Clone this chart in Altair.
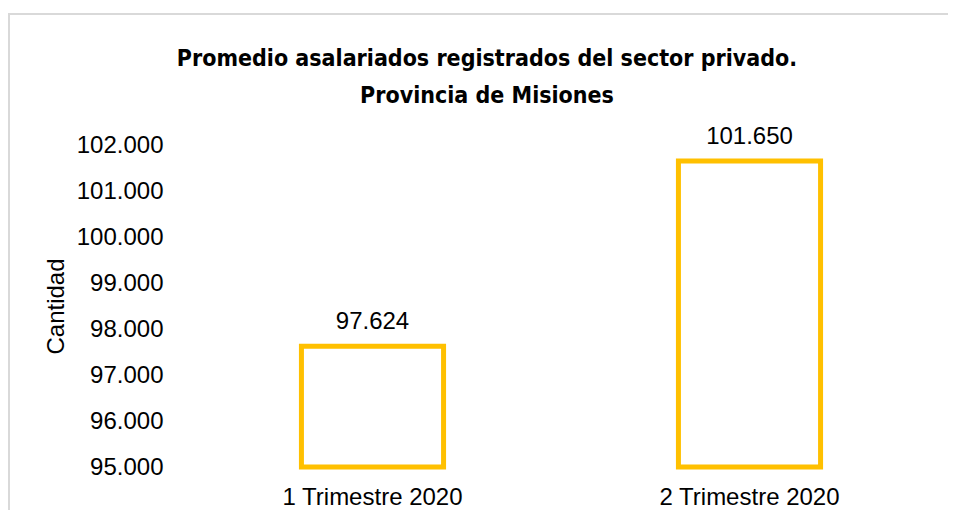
import altair as alt
import pandas as pd

categories = ["1 Trimestre 2020", "2 Trimestre 2020"]
values = [97624, 101650]
y_ticks = [95000, 96000, 97000, 98000, 99000, 100000, 101000, 102000]

df = pd.DataFrame({
    "periodo": categories,
    "valor": values,
    "etiqueta": [f"{v:,}".replace(",", ".") for v in values],
})

FONT = "Liberation Sans, Arial, sans-serif"
TITLE_FONT = "'Liberation Sans Narrow', 'DejaVu Sans Condensed', sans-serif"

x_enc = alt.X(
    "periodo:N",
    sort=categories,
    scale=alt.Scale(paddingInner=0.623, paddingOuter=0.3115),
    axis=alt.Axis(
        title=None, labelAngle=0, domain=False, ticks=False, labelPadding=18,
        labelFontSize=24, labelFont=FONT, labelColor="#000000", labelLimit=0,
    ),
)
y_enc = alt.Y(
    "valor:Q",
    scale=alt.Scale(domain=[95000, 102000], zero=False, nice=False),
    axis=alt.Axis(
        title="Cantidad", values=y_ticks, grid=False, domain=False, ticks=False,
        labelPadding=21, labelFontSize=24, labelFont=FONT, labelColor="#000000",
        labelExpr="replace(format(datum.value, ',.0f'), ',', '.')",
        titleFont=FONT, titleFontSize=24, titleFontWeight="normal",
        titleColor="#000000", titlePadding=8,
    ),
)

frame = alt.Chart(alt.Data(values=[{"k": 1}])).mark_rect(
    filled=False, stroke="#d9d9d9", strokeWidth=2
).encode(
    x=alt.value(-175), x2=alt.value(900), y=alt.value(-131), y2=alt.value(500)
)

bars = alt.Chart(df).mark_bar(
    fill="#ffffff", stroke="#FFC000", strokeWidth=5
).encode(x=x_enc, y=y_enc, y2=alt.datum(95000))

labels = alt.Chart(df).mark_text(
    baseline="alphabetic", dy=-17, fontSize=24, font=FONT, color="#000000"
).encode(x=alt.X("periodo:N", sort=categories), y="valor:Q", text="etiqueta:N")

chart = alt.layer(frame, bars, labels).properties(
    width=754,
    height=322,
    padding={"left": 176, "top": 137, "right": 10, "bottom": 43},
    autosize=alt.AutoSizeParams(type="none"),
    title=alt.TitleParams(
        text=["Promedio asalariados registrados del sector privado.", "Provincia de Misiones"],
        font=TITLE_FONT, fontSize=23, fontWeight="bold", color="#000000",
        anchor="middle", dx=-74, offset=-95, lineHeight=37,
    ),
).configure_view(stroke=None)

chart.save("out.html", embed_options={"renderer": "svg", "actions": False})
